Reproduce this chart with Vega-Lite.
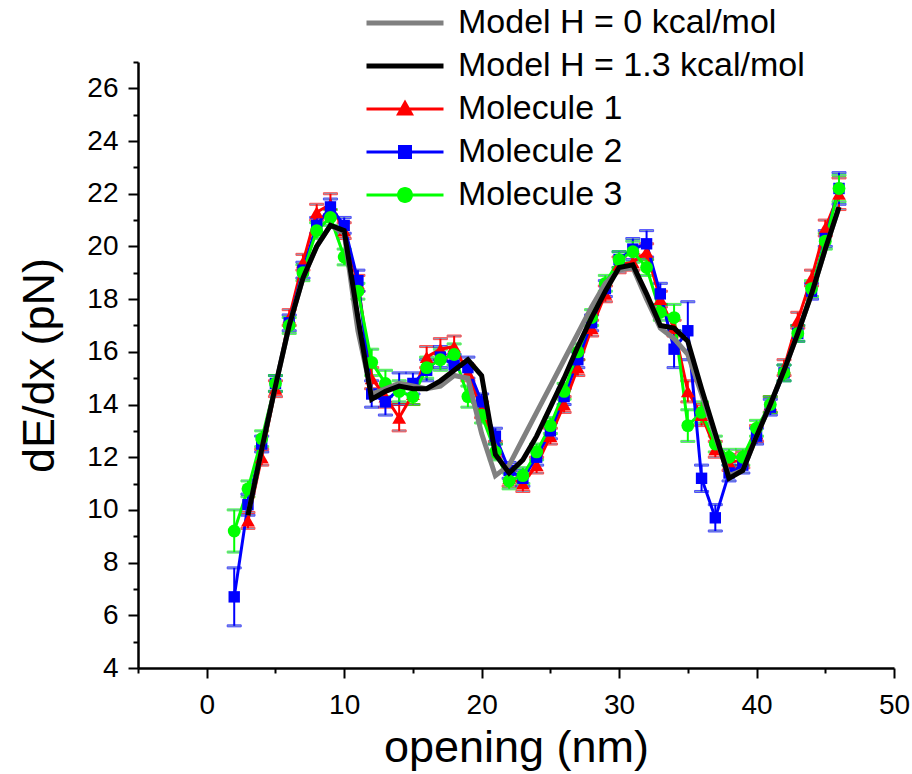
{
  "$schema": "https://vega.github.io/schema/vega-lite/v6.json",
  "width": 756,
  "height": 606,
  "autosize": {"type": "none"},
  "padding": {"left": 138, "top": 62, "right": 18, "bottom": 106},
  "background": "white",
  "config": {
    "view": {"stroke": null},
    "font": "Liberation Sans",
    "axis": {
      "domainColor": "black", "domainWidth": 2.5, "tickColor": "black", "tickWidth": 2,
      "labelColor": "black", "titleColor": "black", "labelFont": "Liberation Sans", "titleFont": "Liberation Sans",
      "labelFontSize": 28, "titleFontWeight": "normal", "grid": false
    }
  },
  "datasets": {
    "mol": [
      {"s":"Molecule 1","x":3,"y":9.6,"e":0.3},{"s":"Molecule 1","x":4,"y":12.0,"e":0.3},{"s":"Molecule 1","x":5,"y":14.6,"e":0.3},{"s":"Molecule 1","x":6,"y":17.3,"e":0.3},{"s":"Molecule 1","x":7,"y":19.4,"e":0.3},{"s":"Molecule 1","x":8,"y":21.3,"e":0.3},{"s":"Molecule 1","x":9,"y":21.6,"e":0.4},{"s":"Molecule 1","x":10,"y":20.6,"e":0.3},{"s":"Molecule 1","x":11,"y":18.6,"e":0.3},{"s":"Molecule 1","x":12,"y":15.0,"e":0.4},{"s":"Molecule 1","x":13,"y":14.3,"e":0.4},{"s":"Molecule 1","x":14,"y":13.5,"e":0.5},{"s":"Molecule 1","x":15,"y":14.4,"e":0.4},{"s":"Molecule 1","x":16,"y":15.8,"e":0.4},{"s":"Molecule 1","x":17,"y":16.1,"e":0.4},{"s":"Molecule 1","x":18,"y":16.2,"e":0.4},{"s":"Molecule 1","x":19,"y":15.2,"e":0.3},{"s":"Molecule 1","x":20,"y":13.8,"e":0.3},{"s":"Molecule 1","x":21,"y":12.3,"e":0.3},{"s":"Molecule 1","x":22,"y":11.2,"e":0.3},{"s":"Molecule 1","x":23,"y":11.0,"e":0.3},{"s":"Molecule 1","x":24,"y":11.7,"e":0.3},{"s":"Molecule 1","x":25,"y":12.8,"e":0.3},{"s":"Molecule 1","x":26,"y":14.0,"e":0.3},{"s":"Molecule 1","x":27,"y":15.4,"e":0.3},{"s":"Molecule 1","x":28,"y":16.9,"e":0.3},{"s":"Molecule 1","x":29,"y":18.2,"e":0.3},{"s":"Molecule 1","x":30,"y":19.3,"e":0.3},{"s":"Molecule 1","x":31,"y":19.4,"e":0.3},{"s":"Molecule 1","x":32,"y":19.8,"e":0.3},{"s":"Molecule 1","x":33,"y":18.0,"e":0.3},{"s":"Molecule 1","x":34,"y":16.9,"e":0.3},{"s":"Molecule 1","x":35,"y":14.5,"e":0.4},{"s":"Molecule 1","x":36,"y":13.6,"e":0.4},{"s":"Molecule 1","x":37,"y":12.3,"e":0.3},{"s":"Molecule 1","x":38,"y":11.8,"e":0.3},{"s":"Molecule 1","x":39,"y":11.9,"e":0.3},{"s":"Molecule 1","x":40,"y":12.9,"e":0.3},{"s":"Molecule 1","x":41,"y":14.0,"e":0.3},{"s":"Molecule 1","x":42,"y":15.4,"e":0.3},{"s":"Molecule 1","x":43,"y":17.2,"e":0.3},{"s":"Molecule 1","x":44,"y":18.8,"e":0.3},{"s":"Molecule 1","x":45,"y":20.7,"e":0.3},{"s":"Molecule 1","x":46,"y":22.0,"e":0.6},
      {"s":"Molecule 2","x":2,"y":6.7,"e":1.1},{"s":"Molecule 2","x":3,"y":10.2,"e":0.4},{"s":"Molecule 2","x":4,"y":12.5,"e":0.3},{"s":"Molecule 2","x":5,"y":14.8,"e":0.3},{"s":"Molecule 2","x":6,"y":17.1,"e":0.3},{"s":"Molecule 2","x":7,"y":19.1,"e":0.3},{"s":"Molecule 2","x":8,"y":20.8,"e":0.3},{"s":"Molecule 2","x":9,"y":21.5,"e":0.3},{"s":"Molecule 2","x":10,"y":20.8,"e":0.3},{"s":"Molecule 2","x":11,"y":18.7,"e":0.4},{"s":"Molecule 2","x":12,"y":14.4,"e":0.5},{"s":"Molecule 2","x":13,"y":14.1,"e":0.5},{"s":"Molecule 2","x":14,"y":14.6,"e":0.6},{"s":"Molecule 2","x":15,"y":14.8,"e":0.4},{"s":"Molecule 2","x":16,"y":15.3,"e":0.4},{"s":"Molecule 2","x":17,"y":15.8,"e":0.4},{"s":"Molecule 2","x":18,"y":15.5,"e":0.4},{"s":"Molecule 2","x":19,"y":15.4,"e":0.4},{"s":"Molecule 2","x":20,"y":14.1,"e":0.3},{"s":"Molecule 2","x":21,"y":12.8,"e":0.3},{"s":"Molecule 2","x":22,"y":11.5,"e":0.3},{"s":"Molecule 2","x":23,"y":11.2,"e":0.3},{"s":"Molecule 2","x":24,"y":12.0,"e":0.3},{"s":"Molecule 2","x":25,"y":13.0,"e":0.3},{"s":"Molecule 2","x":26,"y":14.3,"e":0.3},{"s":"Molecule 2","x":27,"y":15.7,"e":0.3},{"s":"Molecule 2","x":28,"y":17.1,"e":0.3},{"s":"Molecule 2","x":29,"y":18.4,"e":0.3},{"s":"Molecule 2","x":30,"y":19.5,"e":0.3},{"s":"Molecule 2","x":31,"y":19.9,"e":0.4},{"s":"Molecule 2","x":32,"y":20.1,"e":0.5},{"s":"Molecule 2","x":33,"y":18.2,"e":0.4},{"s":"Molecule 2","x":34,"y":16.1,"e":0.7},{"s":"Molecule 2","x":35,"y":16.8,"e":1.1},{"s":"Molecule 2","x":36,"y":11.2,"e":0.5},{"s":"Molecule 2","x":37,"y":9.7,"e":0.5},{"s":"Molecule 2","x":38,"y":11.4,"e":0.3},{"s":"Molecule 2","x":39,"y":11.7,"e":0.3},{"s":"Molecule 2","x":40,"y":12.8,"e":0.3},{"s":"Molecule 2","x":41,"y":13.9,"e":0.3},{"s":"Molecule 2","x":42,"y":15.2,"e":0.3},{"s":"Molecule 2","x":43,"y":16.7,"e":0.3},{"s":"Molecule 2","x":44,"y":18.3,"e":0.3},{"s":"Molecule 2","x":45,"y":20.3,"e":0.3},{"s":"Molecule 2","x":46,"y":22.2,"e":0.6},
      {"s":"Molecule 3","x":2,"y":9.2,"e":0.8},{"s":"Molecule 3","x":3,"y":10.8,"e":0.3},{"s":"Molecule 3","x":4,"y":12.7,"e":0.3},{"s":"Molecule 3","x":5,"y":14.8,"e":0.3},{"s":"Molecule 3","x":6,"y":17.0,"e":0.3},{"s":"Molecule 3","x":7,"y":19.0,"e":0.3},{"s":"Molecule 3","x":8,"y":20.6,"e":0.3},{"s":"Molecule 3","x":9,"y":21.1,"e":0.3},{"s":"Molecule 3","x":10,"y":19.6,"e":0.3},{"s":"Molecule 3","x":11,"y":18.3,"e":0.3},{"s":"Molecule 3","x":12,"y":15.6,"e":0.5},{"s":"Molecule 3","x":13,"y":14.8,"e":0.5},{"s":"Molecule 3","x":14,"y":14.5,"e":0.4},{"s":"Molecule 3","x":15,"y":14.3,"e":0.3},{"s":"Molecule 3","x":16,"y":15.4,"e":0.4},{"s":"Molecule 3","x":17,"y":15.7,"e":0.4},{"s":"Molecule 3","x":18,"y":15.9,"e":0.4},{"s":"Molecule 3","x":19,"y":14.3,"e":0.4},{"s":"Molecule 3","x":20,"y":13.6,"e":0.3},{"s":"Molecule 3","x":21,"y":12.2,"e":0.3},{"s":"Molecule 3","x":22,"y":11.1,"e":0.3},{"s":"Molecule 3","x":23,"y":11.3,"e":0.3},{"s":"Molecule 3","x":24,"y":12.2,"e":0.3},{"s":"Molecule 3","x":25,"y":13.2,"e":0.3},{"s":"Molecule 3","x":26,"y":14.5,"e":0.3},{"s":"Molecule 3","x":27,"y":16.0,"e":0.3},{"s":"Molecule 3","x":28,"y":17.3,"e":0.3},{"s":"Molecule 3","x":29,"y":18.6,"e":0.3},{"s":"Molecule 3","x":30,"y":19.5,"e":0.3},{"s":"Molecule 3","x":31,"y":19.8,"e":0.4},{"s":"Molecule 3","x":32,"y":19.2,"e":0.3},{"s":"Molecule 3","x":33,"y":17.5,"e":0.3},{"s":"Molecule 3","x":34,"y":17.3,"e":0.5},{"s":"Molecule 3","x":35,"y":13.2,"e":0.6},{"s":"Molecule 3","x":36,"y":13.7,"e":0.4},{"s":"Molecule 3","x":37,"y":12.5,"e":0.3},{"s":"Molecule 3","x":38,"y":12.0,"e":0.3},{"s":"Molecule 3","x":39,"y":12.0,"e":0.3},{"s":"Molecule 3","x":40,"y":13.1,"e":0.3},{"s":"Molecule 3","x":41,"y":14.0,"e":0.3},{"s":"Molecule 3","x":42,"y":15.2,"e":0.3},{"s":"Molecule 3","x":43,"y":16.7,"e":0.3},{"s":"Molecule 3","x":44,"y":18.4,"e":0.3},{"s":"Molecule 3","x":45,"y":20.2,"e":0.3},{"s":"Molecule 3","x":46,"y":22.2,"e":0.5}
    ],
    "model": [
      {"s":"Model H = 0 kcal/mol","x":3,"y":9.8},{"s":"Model H = 0 kcal/mol","x":4,"y":12.3},{"s":"Model H = 0 kcal/mol","x":5,"y":14.7},{"s":"Model H = 0 kcal/mol","x":6,"y":17.0},{"s":"Model H = 0 kcal/mol","x":7,"y":18.8},{"s":"Model H = 0 kcal/mol","x":8,"y":20.0},{"s":"Model H = 0 kcal/mol","x":9,"y":20.8},{"s":"Model H = 0 kcal/mol","x":10,"y":20.5},{"s":"Model H = 0 kcal/mol","x":11,"y":16.8},{"s":"Model H = 0 kcal/mol","x":12,"y":14.4},{"s":"Model H = 0 kcal/mol","x":13,"y":14.6},{"s":"Model H = 0 kcal/mol","x":14,"y":14.8},{"s":"Model H = 0 kcal/mol","x":15,"y":14.7},{"s":"Model H = 0 kcal/mol","x":16,"y":14.6},{"s":"Model H = 0 kcal/mol","x":17,"y":14.7},{"s":"Model H = 0 kcal/mol","x":18,"y":15.1},{"s":"Model H = 0 kcal/mol","x":19,"y":15.0},{"s":"Model H = 0 kcal/mol","x":20,"y":12.9},{"s":"Model H = 0 kcal/mol","x":21,"y":11.3},{"s":"Model H = 0 kcal/mol","x":22,"y":11.7},{"s":"Model H = 0 kcal/mol","x":23,"y":12.7},{"s":"Model H = 0 kcal/mol","x":24,"y":13.7},{"s":"Model H = 0 kcal/mol","x":25,"y":14.7},{"s":"Model H = 0 kcal/mol","x":26,"y":15.7},{"s":"Model H = 0 kcal/mol","x":27,"y":16.7},{"s":"Model H = 0 kcal/mol","x":28,"y":17.7},{"s":"Model H = 0 kcal/mol","x":29,"y":18.6},{"s":"Model H = 0 kcal/mol","x":30,"y":19.1},{"s":"Model H = 0 kcal/mol","x":31,"y":19.2},{"s":"Model H = 0 kcal/mol","x":32,"y":18.0},{"s":"Model H = 0 kcal/mol","x":33,"y":16.9},{"s":"Model H = 0 kcal/mol","x":34,"y":16.5},{"s":"Model H = 0 kcal/mol","x":35,"y":15.9},{"s":"Model H = 0 kcal/mol","x":36,"y":14.4},{"s":"Model H = 0 kcal/mol","x":37,"y":12.8},{"s":"Model H = 0 kcal/mol","x":38,"y":11.3},{"s":"Model H = 0 kcal/mol","x":39,"y":11.5},{"s":"Model H = 0 kcal/mol","x":40,"y":12.8},{"s":"Model H = 0 kcal/mol","x":41,"y":14.0},{"s":"Model H = 0 kcal/mol","x":42,"y":15.3},{"s":"Model H = 0 kcal/mol","x":43,"y":16.7},{"s":"Model H = 0 kcal/mol","x":44,"y":18.2},{"s":"Model H = 0 kcal/mol","x":45,"y":19.9},{"s":"Model H = 0 kcal/mol","x":46,"y":21.5},
      {"s":"Model H = 1.3 kcal/mol","x":3,"y":9.8},{"s":"Model H = 1.3 kcal/mol","x":4,"y":12.3},{"s":"Model H = 1.3 kcal/mol","x":5,"y":14.7},{"s":"Model H = 1.3 kcal/mol","x":6,"y":17.0},{"s":"Model H = 1.3 kcal/mol","x":7,"y":18.8},{"s":"Model H = 1.3 kcal/mol","x":8,"y":20.0},{"s":"Model H = 1.3 kcal/mol","x":9,"y":20.8},{"s":"Model H = 1.3 kcal/mol","x":10,"y":20.6},{"s":"Model H = 1.3 kcal/mol","x":11,"y":17.3},{"s":"Model H = 1.3 kcal/mol","x":12,"y":14.2},{"s":"Model H = 1.3 kcal/mol","x":13,"y":14.5},{"s":"Model H = 1.3 kcal/mol","x":14,"y":14.7},{"s":"Model H = 1.3 kcal/mol","x":15,"y":14.6},{"s":"Model H = 1.3 kcal/mol","x":16,"y":14.6},{"s":"Model H = 1.3 kcal/mol","x":17,"y":14.9},{"s":"Model H = 1.3 kcal/mol","x":18,"y":15.3},{"s":"Model H = 1.3 kcal/mol","x":19,"y":15.7},{"s":"Model H = 1.3 kcal/mol","x":20,"y":15.1},{"s":"Model H = 1.3 kcal/mol","x":21,"y":12.1},{"s":"Model H = 1.3 kcal/mol","x":22,"y":11.4},{"s":"Model H = 1.3 kcal/mol","x":23,"y":11.9},{"s":"Model H = 1.3 kcal/mol","x":24,"y":12.8},{"s":"Model H = 1.3 kcal/mol","x":25,"y":13.9},{"s":"Model H = 1.3 kcal/mol","x":26,"y":15.0},{"s":"Model H = 1.3 kcal/mol","x":27,"y":16.2},{"s":"Model H = 1.3 kcal/mol","x":28,"y":17.3},{"s":"Model H = 1.3 kcal/mol","x":29,"y":18.3},{"s":"Model H = 1.3 kcal/mol","x":30,"y":19.2},{"s":"Model H = 1.3 kcal/mol","x":31,"y":19.3},{"s":"Model H = 1.3 kcal/mol","x":32,"y":18.2},{"s":"Model H = 1.3 kcal/mol","x":33,"y":17.0},{"s":"Model H = 1.3 kcal/mol","x":34,"y":16.9},{"s":"Model H = 1.3 kcal/mol","x":35,"y":16.4},{"s":"Model H = 1.3 kcal/mol","x":36,"y":14.6},{"s":"Model H = 1.3 kcal/mol","x":37,"y":12.9},{"s":"Model H = 1.3 kcal/mol","x":38,"y":11.2},{"s":"Model H = 1.3 kcal/mol","x":39,"y":11.5},{"s":"Model H = 1.3 kcal/mol","x":40,"y":12.8},{"s":"Model H = 1.3 kcal/mol","x":41,"y":14.0},{"s":"Model H = 1.3 kcal/mol","x":42,"y":15.3},{"s":"Model H = 1.3 kcal/mol","x":43,"y":16.7},{"s":"Model H = 1.3 kcal/mol","x":44,"y":18.2},{"s":"Model H = 1.3 kcal/mol","x":45,"y":19.9},{"s":"Model H = 1.3 kcal/mol","x":46,"y":21.5}
    ]
  },
  "encoding": {
    "x": {"field": "x", "type": "quantitative",
      "scale": {"domain": [-5, 50], "nice": false, "zero": false},
      "axis": {"title": "opening (nm)", "titleFontSize": 45, "values": [-5,0,5,10,15,20,25,30,35,40,45,50],
        "labelExpr": "datum.value % 10 === 0 ? datum.label : ''",
        "tickSize": {"condition": {"test": "datum.value % 10 === 0", "value": 10}, "value": 5},
        "labelFlush": false, "labelOverlap": false, "labelPadding": 13, "titlePadding": 6}},
    "y": {"field": "y", "type": "quantitative",
      "scale": {"domain": [4, 27], "nice": false, "zero": false},
      "axis": {"title": "dE/dx (pN)", "titleFontSize": 45, "values": [4,5,6,7,8,9,10,11,12,13,14,15,16,17,18,19,20,21,22,23,24,25,26,27],
        "labelExpr": "datum.value % 2 === 0 ? datum.label : ''",
        "tickSize": {"condition": {"test": "datum.value % 2 === 0", "value": 10}, "value": 5},
        "labelFlush": false, "labelOverlap": false, "labelPadding": 10, "titlePadding": 24}}
  },
  "layer": [
    {
      "data": {"name": "mol"},
      "mark": {"type": "errorbar", "ticks": {"size": 14}, "thickness": 2},
      "encoding": {
        "yError": {"field": "e"},
        "stroke": {"field": "s", "type": "nominal",
          "scale": {"domain": ["Molecule 1", "Molecule 2", "Molecule 3"], "range": ["#ff0000", "#0000ff", "#00ff00"]},
          "legend": null}
      }
    },
    {
      "data": {"name": "mol"},
      "mark": {"type": "line", "strokeWidth": 3},
      "encoding": {"stroke": {"field": "s", "type": "nominal", "legend": null}}
    },
    {
      "data": {"name": "mol"},
      "transform": [{"filter": {"field": "s", "equal": "Molecule 1"}}],
      "mark": {"type": "point", "shape": "triangle-up", "filled": true, "size": 190, "opacity": 1, "color": "#ff0000"}
    },
    {
      "data": {"name": "mol"},
      "transform": [{"filter": {"field": "s", "equal": "Molecule 2"}}],
      "mark": {"type": "point", "shape": "square", "filled": true, "size": 130, "opacity": 1, "color": "#0000ff"}
    },
    {
      "data": {"name": "mol"},
      "transform": [{"filter": {"field": "s", "equal": "Molecule 3"}}],
      "mark": {"type": "point", "shape": "circle", "filled": true, "size": 165, "opacity": 1, "color": "#00ff00"}
    },
    {
      "data": {"name": "model"},
      "transform": [{"filter": {"field": "s", "equal": "Model H = 0 kcal/mol"}}],
      "mark": {"type": "line", "strokeWidth": 5, "color": "#808080"}
    },
    {
      "data": {"name": "model"},
      "transform": [{"filter": {"field": "s", "equal": "Model H = 1.3 kcal/mol"}}],
      "mark": {"type": "line", "strokeWidth": 5, "color": "#000000"}
    },
    {
      "data": {"name": "model"},
      "transform": [{"filter": "datum.x < 0"}],
      "mark": {"type": "point", "filled": true, "opacity": 1},
      "encoding": {
        "color": {"field": "s", "type": "nominal",
          "scale": {"domain": ["Model H = 0 kcal/mol", "Model H = 1.3 kcal/mol", "Molecule 1", "Molecule 2", "Molecule 3"],
                    "range": ["#808080", "#000000", "#ff0000", "#0000ff", "#00ff00"]},
          "legend": {"title": null, "orient": "none", "legendX": 250, "legendY": -56, "padding": 0,
            "symbolSize": 400, "symbolStrokeWidth": 0, "symbolOpacity": 1, "labelLimit": 600,
            "labelFontSize": 34, "labelFont": "Liberation Sans", "labelColor": "black", "labelOffset": 36, "rowPadding": 9}},
        "shape": {"field": "s", "type": "nominal",
          "scale": {"domain": ["Model H = 0 kcal/mol", "Model H = 1.3 kcal/mol", "Molecule 1", "Molecule 2", "Molecule 3"],
                    "range": [
                      "M-3.85,-0.25L3.85,-0.25L3.85,0.25L-3.85,0.25Z",
                      "M-3.85,-0.25L3.85,-0.25L3.85,0.25L-3.85,0.25Z",
                      "M-3.85,-0.15L3.85,-0.15L3.85,0.15L-3.85,0.15Z M0,-0.95L0.9,0.65L-0.9,0.65Z",
                      "M-3.85,-0.15L3.85,-0.15L3.85,0.15L-3.85,0.15Z M-0.7,-0.7L0.7,-0.7L0.7,0.7L-0.7,0.7Z",
                      "M-3.85,-0.15L3.85,-0.15L3.85,0.15L-3.85,0.15Z M0.8,0A0.8,0.8,0,1,1,-0.8,0A0.8,0.8,0,1,1,0.8,0Z"
                    ]},
          "legend": {"title": null, "orient": "none", "legendX": 250, "legendY": -56, "padding": 0,
            "symbolSize": 400, "symbolStrokeWidth": 0, "symbolOpacity": 1, "labelLimit": 600,
            "labelFontSize": 34, "labelFont": "Liberation Sans", "labelColor": "black", "labelOffset": 36, "rowPadding": 9}}
      }
    }
  ]
}
